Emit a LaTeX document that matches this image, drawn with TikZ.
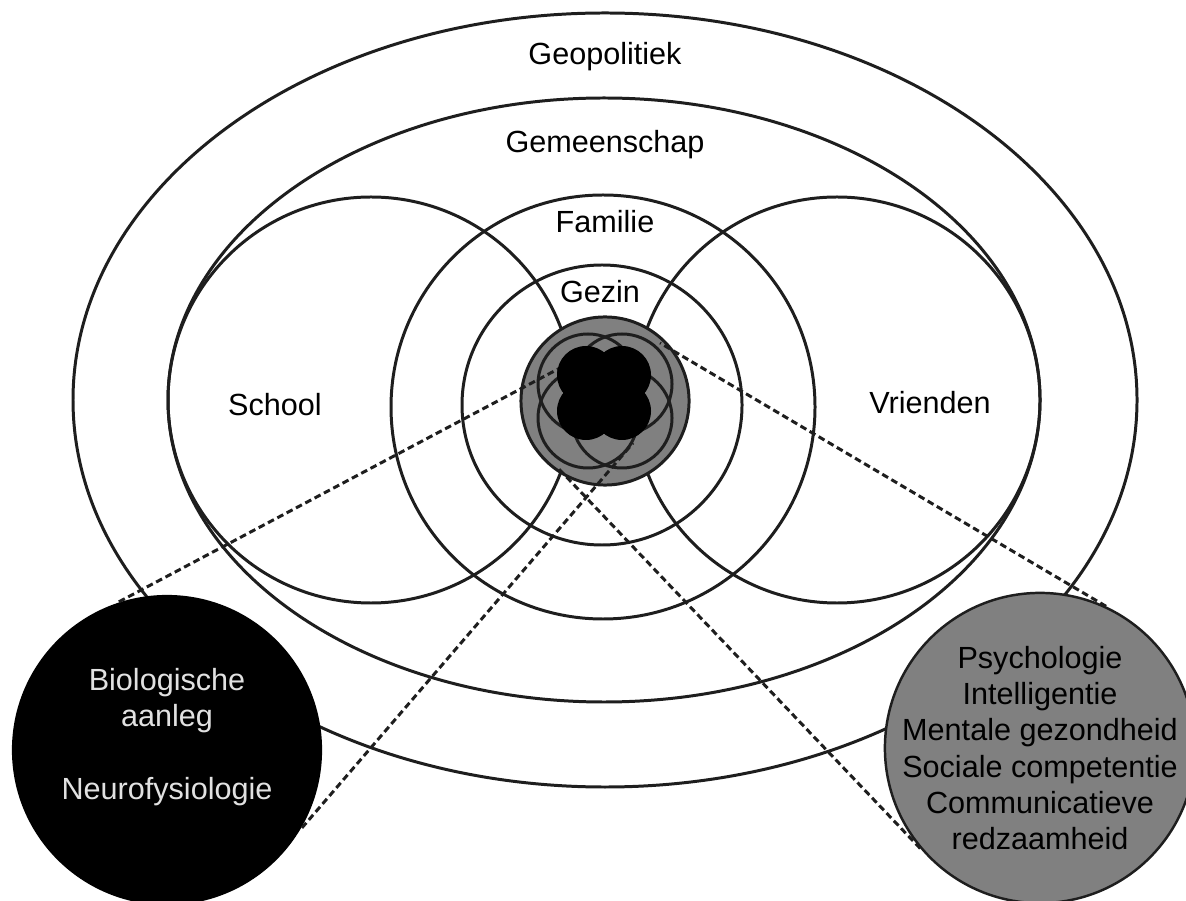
\documentclass[tikz,border=0pt]{standalone}
\usepackage{fontspec}
\setmainfont{Liberation Sans}
\definecolor{ln}{RGB}{30,30,30}
\definecolor{midgrey}{RGB}{128,128,128}
\definecolor{lighttext}{RGB}{225,225,225}
\begin{document}
\begin{tikzpicture}[x=0.01cm,y=-0.01cm,
  ring/.style={draw=ln,line width=0.85pt},
  lbl/.style={font=\fontsize{8.7pt}{10.3pt}\selectfont,inner sep=0pt,align=center},
  link/.style={draw=ln,line width=0.85pt,dash pattern=on 1.9pt off 1.1pt},
  bigdisc/.style={circle,minimum size=3.1cm,inner sep=0pt}]
\useasboundingbox (0,0) rectangle (1186,901);
% rings
\draw[ring] (605,400) ellipse [x radius=532, y radius=387];
\draw[ring] (604,400) ellipse [x radius=436, y radius=302];
\draw[ring] (371,400) circle [radius=203];
\draw[ring] (837,400) circle [radius=203];
\draw[ring] (603,407) circle [radius=212];
\draw[ring] (602,405) circle [radius=140];
% labels
\node[lbl] (geo) at (605,57) {Geopolitiek};
\node[lbl] (gem) at (605,145) {Gemeenschap};
\node[lbl] (fam) at (605,222) {Familie};
\node[lbl] (gez) at (600,292) {Gezin};
\node[lbl] (sch) at (275,405) {School};
\node[lbl] (vri) at (930,403) {Vrienden};
% core
\node[circle,fill=midgrey,draw=ln,line width=0.85pt,minimum size=1.68cm,inner sep=0pt] (core) at (605,401) {};
\foreach \dx/\dy in {-17/-17,17/-17,-17/17,17/17}
  \fill[midgrey] (605+\dx,401+\dy) circle [radius=50];
\foreach \dx/\dy in {-17/-17,17/-17,-17/17,17/17}
  \draw[ring] (605+\dx,401+\dy) circle [radius=50];
% outer discs
\node[bigdisc,fill=black] (bio) at (167,750) {};
\node[bigdisc,fill=midgrey,draw=ln,line width=0.7pt] (psy) at (1040,748) {};
% dashed connectors
\coordinate (cUL) at (560,368);
\coordinate (cLL) at (633,443);
\coordinate (cUR) at (660,343);
\coordinate (cLR) at (557,467);
\draw[link] (bio.108) -- (cUL);
\draw[link] (bio.-30) -- (cLL);
\draw[link] (psy.65) -- (cUR);
\draw[link] (psy.220) -- (cLR);
% black centre
\foreach \dx/\dy in {-18/-18,18/-18,-18/18,18/18}
  \fill[black] (604+\dx,393+\dy) circle [radius=29];
% texts in discs
\node[lbl,text=lighttext] (biot) at (167,737) {Biologische\\aanleg\\[10.5pt]Neurofysiologie};
\node[lbl,text=black] (psyt) at (1040,748) {Psychologie\\Intelligentie\\Mentale gezondheid\\Sociale competentie\\Communicatieve\\redzaamheid};
\end{tikzpicture}
\end{document}
